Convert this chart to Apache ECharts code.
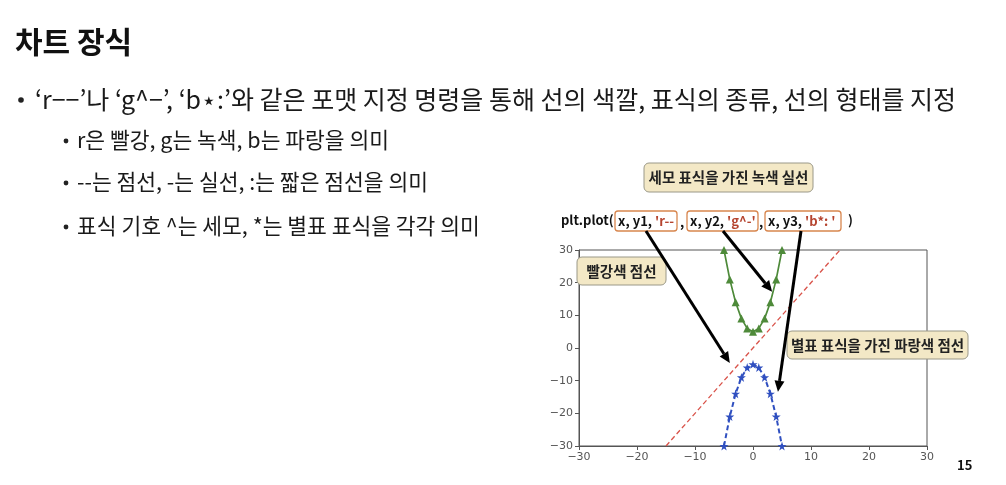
<!DOCTYPE html>
<html><head><meta charset="utf-8">
<script src="https://cdn.jsdelivr.net/npm/echarts@6/dist/echarts.min.js"></script>
<style>html,body{margin:0;padding:0;background:#fff}#c{width:1006px;height:485px}</style>
</head><body><div id="c"></div>
<script>
const xTicks = [-30, -20, -10, 0, 10, 20, 30];
const yTicks = [-30, -20, -10, 0, 10, 20, 30];
const redX = [-15, 15];
const redY = [-30, 30];
const markX = [-5, -4, -3, -2, -1, 0, 1, 2, 3, 4, 5];
const greenY = [30, 21, 14, 9, 6, 5, 6, 9, 14, 21, 30];
const blueY = [-30, -21, -14, -9, -6, -5, -6, -9, -14, -21, -30];

const FONT = '"Noto Sans CJK KR", "Noto Sans", sans-serif';
const pair = (xs, ys) => xs.map((x, i) => [x, ys[i]]);
const STAR = 'path://M50,0 L61,35 L98,35 L68,57 L79,91 L50,70 L21,91 L32,57 L2,35 L39,35 Z';

const chart = echarts.init(document.getElementById('c'), null, {renderer: 'canvas'});
const axisCommon = (ticks) => ({
  type: 'value', min: ticks[0], max: ticks[ticks.length - 1], interval: 10,
  axisLine: {show: true, onZero: false, lineStyle: {color: '#555', width: 1}},
  axisTick: {show: true, length: 4, lineStyle: {color: '#555'}},
  splitLine: {show: false},
  axisLabel: {color: '#555', fontSize: 11, margin: 6, fontFamily: 'DejaVu Sans',
    formatter: v => (v < 0 ? '\u2212' + Math.abs(v) : '' + v)}
});
const option = {
  animation: false,
  grid: {left: 579, right: 79, top: 250, bottom: 39, show: true, borderColor: '#555', borderWidth: 1},
  xAxis: axisCommon(xTicks),
  yAxis: axisCommon(yTicks),
  series: [
    {type: 'line', data: pair(redX, redY), symbol: 'none', lineStyle: {color: '#d9534a', width: 1.3, type: [5, 3]}, z: 2},
    {type: 'line', data: pair(markX, greenY), symbol: 'triangle', symbolSize: 8,
      itemStyle: {color: '#4e8a3a'}, lineStyle: {color: '#4e8a3a', width: 1.7}, z: 3},
    {type: 'line', data: pair(markX, blueY), symbol: STAR, symbolSize: 9,
      itemStyle: {color: '#2f4fc0'}, lineStyle: {color: '#2f4fc0', width: 2, type: [5, 3]}, z: 3}
  ]
};
chart.setOption(option);

// slide text and annotations
const g = [];
function txt(x, y, text, size, opts) {
  g.push({type: 'text', x: x, y: y, z: 10,
    style: Object.assign({text: text, font: (opts && opts.weight ? opts.weight + ' ' : '') + size + 'px ' + FONT,
      fill: '#111', textVerticalAlign: 'middle'}, opts && opts.style)});
}
function bullet(x, y, r) { g.push({type: 'circle', z: 10, shape: {cx: x, cy: y, r: r}, style: {fill: '#222'}}); }

txt(15, 42, '차트 장식', 30, {weight: 'bold'});
bullet(21, 100, 2.8);
txt(35, 99, '‘r−−’나 ‘g^−’, ‘b\u22c6:’와 같은 포맷 지정 명령을 통해 선의 색깔, 표식의 종류, 선의 형태를 지정', 25, {style: {fill: '#1a1a1a'}});
bullet(66, 141, 2.4);
txt(77, 140, 'r은 빨강, g는 녹색, b는 파랑을 의미', 21.5, {style: {fill: '#1a1a1a'}});
bullet(66, 183, 2.4);
txt(77, 182, '--는 점선, -는 실선, :는 짧은 점선을 의미', 21.5, {style: {fill: '#1a1a1a'}});
bullet(66, 227, 2.4);
txt(77, 226, '표식 기호 ^는 세모, *는 별표 표식을 각각 의미', 21.5, {style: {fill: '#1a1a1a'}});
txt(957, 465, '15', 13, {weight: 'bold'});

function note(x, y, w, h, text) {
  g.push({type: 'rect', z: 11, shape: {x: x, y: y, width: w, height: h, r: 5},
    style: {fill: '#f3e8c6', stroke: '#9a9888', lineWidth: 1}});
  g.push({type: 'text', z: 12, x: x + w / 2, y: y + h / 2,
    style: {text: text, font: 'bold 14.5px ' + FONT, fill: '#222', textAlign: 'center', textVerticalAlign: 'middle'}});
}
note(644, 163, 169, 29, '세모 표식을 가진 녹색 실선');
note(577, 257, 89, 28, '빨강색 점선');
note(787, 331, 181, 28, '별표 표식을 가진 파랑색 점선');

function codeBox(x, y, w, h, a, b) {
  g.push({type: 'rect', z: 11, shape: {x: x, y: y, width: w, height: h, r: 3},
    style: {fill: '#fff', stroke: '#d8864e', lineWidth: 1.3}});
  g.push({type: 'text', z: 12, x: x + 3, y: y + h / 2,
    style: {text: '{a|' + a + '}{b|' + b + '}', textVerticalAlign: 'middle',
      rich: {a: {font: 'bold 13px ' + FONT, fill: '#111'}, b: {font: 'bold 13px ' + FONT, fill: '#b5442f'}}}});
}
txt(561, 220, 'plt.plot(', 13, {weight: 'bold'});
codeBox(615, 211, 62, 20, 'x, y1, ', "'r--");
txt(680, 222, ',', 13, {weight: 'bold'});
codeBox(687, 211, 71, 20, 'x, y2, ', "'g^-'");
txt(759, 222, ',', 13, {weight: 'bold'});
codeBox(765, 211, 76, 20, 'x, y3, ', "'b*: '");
txt(848, 220, ')', 13, {weight: 'bold'});

function arrow(x1, y1, dataTip) {
  const p = chart.convertToPixel({gridIndex: 0}, dataTip);
  const x2 = p[0], y2 = p[1];
  const ang = Math.atan2(y2 - y1, x2 - x1);
  const L = 11, W = 5;
  const bx = x2 - L * Math.cos(ang), by = y2 - L * Math.sin(ang);
  g.push({type: 'line', z: 13, shape: {x1: x1, y1: y1, x2: bx, y2: by}, style: {stroke: '#000', lineWidth: 3}});
  g.push({type: 'polygon', z: 13, shape: {points: [[x2, y2],
    [bx + W * Math.sin(ang), by - W * Math.cos(ang)], [bx - W * Math.sin(ang), by + W * Math.cos(ang)]]},
    style: {fill: '#000'}});
}
arrow(646, 231, [-4, -4.6]);
arrow(723, 231, [3.3, 17.2]);
arrow(801, 231, [4.3, -13.4]);

chart.setOption({graphic: {elements: g}});
</script></body></html>
